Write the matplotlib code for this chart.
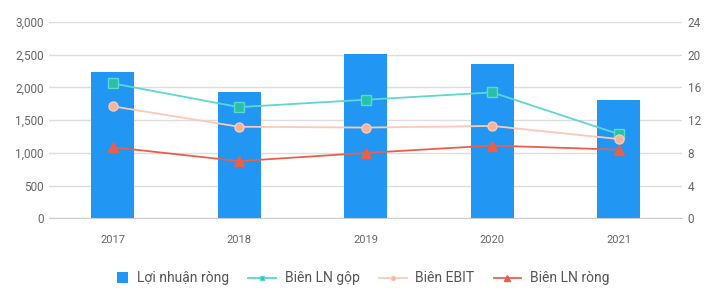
import matplotlib
matplotlib.use("Agg")
import matplotlib.pyplot as plt
from matplotlib.lines import Line2D
from matplotlib.patches import Patch, Rectangle
from matplotlib.legend_handler import HandlerBase
import numpy as np

plt.rcParams['font.family'] = ['Roboto', 'DejaVu Sans']

years = ["2017", "2018", "2019", "2020", "2021"]
loi_nhuan_rong = [2240, 1930, 2510, 2360, 1810]
bien_ln_gop = [16.5, 13.6, 14.5, 15.4, 10.3]
bien_ebit = [13.7, 11.2, 11.1, 11.3, 9.7]
bien_ln_rong = [8.7, 7.0, 8.0, 8.9, 8.4]
left_ticks = [0, 500, 1000, 1500, 2000, 2500, 3000]
right_ticks = [0, 4, 8, 12, 16, 20, 24]

bar_c = '#2196F3'
gop_line = '#5ED6D2'
gop_mk = '#26C2A8'
ebit_line = '#FCC9B8'
ebit_mk = '#F6B39C'
rong_c = '#E8604C'
txt = '#666666'


class SquareRightHandler(HandlerBase):
    def create_artists(self, legend, orig_handle, xdescent, ydescent,
                       width, height, fontsize, trans):
        side = min(height * 1.15, width)
        r = Rectangle((width - side - xdescent, (height - side) / 2 - ydescent),
                      side, side, facecolor=orig_handle.get_facecolor(),
                      edgecolor='none', transform=trans)
        return [r]


fig = plt.figure(figsize=(7.07, 2.9), dpi=100)
ax = fig.add_axes([0.0697, 0.247, 0.895, 0.677])
x = np.arange(len(years))
ax.bar(x, loi_nhuan_rong, width=0.34, color=bar_c, zorder=2)
ax.set_xlim(-0.5, 4.5)
ax.set_ylim(0, 3000)
ax.set_yticks(left_ticks)
ax.set_yticklabels([f"{v:,}" for v in left_ticks])
ax.set_xticks(x)
ax.set_xticklabels(years)
ax.grid(axis='y', color='#DDDDDD', linewidth=1, zorder=0)
for s in ['top', 'right', 'left']:
    ax.spines[s].set_visible(False)
ax.spines['bottom'].set_color('#CCCCCC')
ax.tick_params(axis='both', length=0, colors=txt, labelsize=8.5)
ax.tick_params(axis='x', pad=12, labelsize=8)
ax.tick_params(axis='y', pad=4)

ax2 = ax.twinx()
ax2.set_ylim(0, 24)
ax2.set_yticks(right_ticks)
for s in ['top', 'right', 'left', 'bottom']:
    ax2.spines[s].set_visible(False)
ax2.tick_params(axis='y', length=0, colors=txt, labelsize=8.5, pad=4)

ax2.plot(x, bien_ln_gop, color=gop_line, lw=1.3, marker='s', ms=6.5,
         mfc=gop_mk, mec=gop_line, zorder=3)
ax2.plot(x, bien_ebit, color=ebit_line, lw=1.3, marker='o', ms=6.5,
         mfc=ebit_mk, mec=ebit_line, zorder=3)
ax2.plot(x, bien_ln_rong, color=rong_c, lw=1.3, marker='^', ms=7.5,
         mfc=rong_c, mec=rong_c, zorder=3)

bar_handle = Patch(facecolor=bar_c, label='Lợi nhuận ròng')
handles = [
    bar_handle,
    Line2D([], [], color=gop_line, lw=1.3, marker='s', ms=3, mfc=gop_mk, mec=gop_line, label='Biên LN gộp'),
    Line2D([], [], color=ebit_line, lw=1.3, marker='o', ms=3, mfc=ebit_mk, mec=ebit_line, label='Biên EBIT'),
    Line2D([], [], color=rong_c, lw=1.3, marker='^', ms=4, mfc=rong_c, mec=rong_c, label='Biên LN ròng'),
]
leg = fig.legend(handles=handles, loc='center', bbox_to_anchor=(0.502, 0.04),
                 ncol=4, frameon=False, fontsize=10, handlelength=2.0,
                 handletextpad=0.6, columnspacing=1.4,
                 handler_map={bar_handle: SquareRightHandler()})
for t in leg.get_texts():
    t.set_color('#555555')

fig.savefig('out.png', dpi=100)
